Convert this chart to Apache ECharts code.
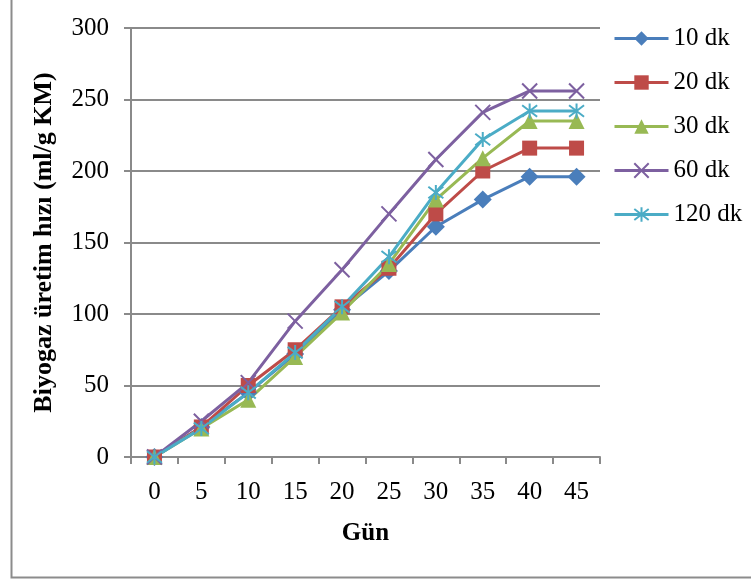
<!DOCTYPE html>
<html>
<head>
<meta charset="utf-8">
<script src="https://cdn.jsdelivr.net/npm/echarts@6/dist/echarts.min.js"></script>
<style>
  html, body { margin: 0; padding: 0; background: #fff; }
  #chart { width: 751px; height: 579px; }
</style>
</head>
<body>
<div id="chart"></div>
<script>
const days = ['0', '5', '10', '15', '20', '25', '30', '35', '40', '45']
const dk10 = [0, 21, 45, 72, 103, 130, 161, 180, 196, 196]
const dk20 = [0, 21, 50, 75, 105, 132, 170, 200, 216, 216]
const dk30 = [0, 20, 40, 70, 101, 135, 180, 209, 235, 235]
const dk60 = [0, 25, 52, 95, 131, 170, 208, 241, 256, 256]
const dk120 = [0, 20, 45, 73, 105, 140, 185, 222, 242, 242]

const font = 'Liberation Serif'
const gray = '#8a8a8a'

// x ve yildiz isaretleri icin cizgi yolu
const crossPath = 'path://M0 0L10 10M10 0L0 10'
const starPath = 'path://M0 0L10 10M10 0L0 10M5 -1.5L5 11.5'

function makeSeries(name, data, color, symbol, size, stroke) {
    return {
        name: name,
        type: 'line',
        data: data,
        symbol: symbol,
        symbolSize: size,
        showAllSymbol: true,
        lineStyle: { color: color, width: 3 },
        itemStyle: stroke
            ? { color: color, borderColor: color, borderWidth: 2 }
            : { color: color },
        emphasis: { disabled: true }
    }
}

const chart = echarts.init(document.getElementById('chart'))
chart.setOption({
    animation: false,
    textStyle: { fontFamily: font },
    grid: { left: 131, right: 151, top: 28, bottom: 122 },
    legend: {
        orient: 'vertical',
        left: 613,
        top: 26,
        itemWidth: 54,
        itemHeight: 18,
        itemGap: 19,
        padding: 0,
        lineStyle: { width: 3 },
        textStyle: { fontFamily: font, fontSize: 25, color: '#000' },
        data: ['10 dk', '20 dk', '30 dk', '60 dk', '120 dk']
    },
    xAxis: {
        type: 'category',
        data: days,
        boundaryGap: true,
        name: 'Gün',
        nameLocation: 'middle',
        nameGap: 64,
        nameTextStyle: { fontFamily: font, fontSize: 25, fontWeight: 'bold', color: '#000' },
        axisLine: { lineStyle: { color: gray, width: 2 } },
        axisTick: { show: true, length: 7, lineStyle: { color: gray, width: 2 } },
        axisLabel: { fontFamily: font, fontSize: 25, color: '#000', margin: 23 },
        splitLine: { show: false }
    },
    yAxis: {
        type: 'value',
        min: 0,
        max: 300,
        interval: 50,
        name: 'Biyogaz üretim hızı (ml/g KM)',
        nameLocation: 'middle',
        nameGap: 74,
        nameTextStyle: { fontFamily: font, fontSize: 26, fontWeight: 'bold', color: '#000' },
        axisLine: { show: true, lineStyle: { color: gray, width: 2 } },
        axisTick: { show: true, length: 7, lineStyle: { color: gray, width: 2 } },
        axisLabel: { fontFamily: font, fontSize: 25, color: '#000', margin: 22 },
        splitLine: { lineStyle: { color: gray, width: 2 } }
    },
    graphic: [
        {
            type: 'rect',
            left: 9,
            top: -4,
            shape: { width: 760, height: 579 },
            style: { fill: 'none', stroke: '#8c8c8c', lineWidth: 2 },
            silent: true
        }
    ],
    series: [
        makeSeries('10 dk', dk10, '#4A7EBB', 'diamond', 18, false),
        makeSeries('20 dk', dk20, '#BE4B48', 'rect', 15, false),
        makeSeries('30 dk', dk30, '#98B954', 'triangle', 16, false),
        makeSeries('60 dk', dk60, '#7D60A0', crossPath, 15, true),
        makeSeries('120 dk', dk120, '#4BACC6', starPath, 15, true)
    ]
})

window.addEventListener('resize', () => {
    chart.resize()
})
</script>
</body>
</html>
